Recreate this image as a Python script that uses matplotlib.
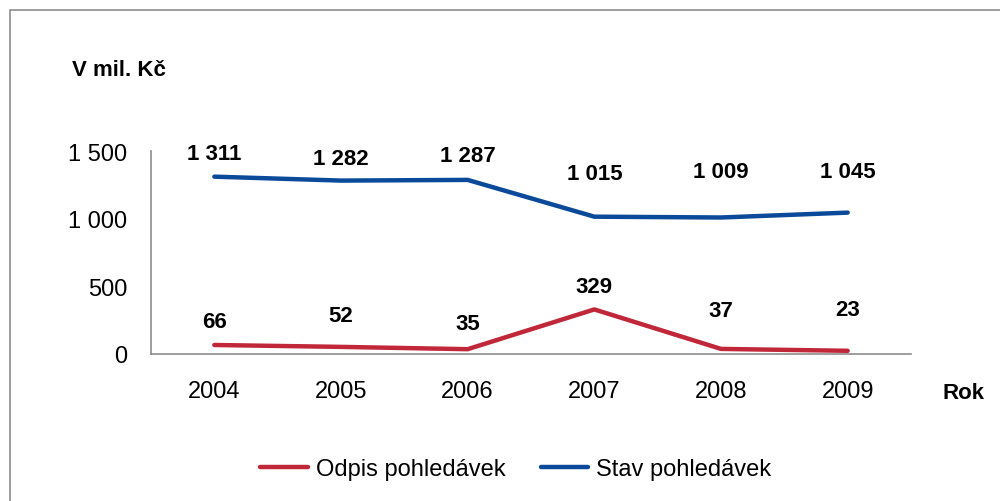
import matplotlib.pyplot as plt
from matplotlib.patches import Rectangle

plt.rcParams['font.family'] = ['Liberation Sans', 'DejaVu Sans']

years = ['2004', '2005', '2006', '2007', '2008', '2009']
odpis = [66, 52, 35, 329, 37, 23]
stav = [1311, 1282, 1287, 1015, 1009, 1045]

# label offsets in pixels (dx, dy) above each point
odpis_off = [(0, 23), (0, 31), (0, 26), (0, 23), (0, 38), (0, 41)]
stav_off = [(0, 23), (0, 22), (0, 24), (0, 43), (0, 46), (0, 41)]

red = '#C0283A'
blue = '#0B4A9A'


def fmt(v):
    return '{:,}'.format(v).replace(',', ' ')


fig = plt.figure(figsize=(10, 5.02), dpi=100)
fig.patches.append(Rectangle((0.010, -0.05), 1.1, 1.028, transform=fig.transFigure,
                             fill=False, edgecolor='#8c8c8c', linewidth=1.2))

ax = fig.add_axes([0.151, 0.293, 0.76, 0.404])
x = range(len(years))
ax.plot(x, odpis, color=red, linewidth=3.2, solid_capstyle='round', label='Odpis pohledávek')
ax.plot(x, stav, color=blue, linewidth=3.2, solid_capstyle='round', label='Stav pohledávek')

for i, v in enumerate(odpis):
    ax.annotate(fmt(v), (i, v), xytext=(odpis_off[i][0] * 0.72, odpis_off[i][1] * 0.72),
                textcoords='offset points', ha='center', va='center',
                fontsize=16, fontweight='bold')
for i, v in enumerate(stav):
    ax.annotate(fmt(v), (i, v), xytext=(stav_off[i][0] * 0.72, stav_off[i][1] * 0.72),
                textcoords='offset points', ha='center', va='center',
                fontsize=16, fontweight='bold')

ax.set_xlim(-0.5, 5.5)
ax.set_ylim(0, 1500)
ax.set_yticks([0, 500, 1000, 1500])
ax.set_yticklabels([fmt(t) for t in [0, 500, 1000, 1500]])
ax.set_xticks(list(x))
ax.set_xticklabels(years)
ax.tick_params(axis='both', length=0, labelsize=17)
ax.tick_params(axis='y', pad=17)
ax.tick_params(axis='x', pad=19)
for s in ['top', 'right']:
    ax.spines[s].set_visible(False)
for s in ['left', 'bottom']:
    ax.spines[s].set_color('#8c8c8c')
    ax.spines[s].set_linewidth(1.2)
ax.patch.set_visible(False)

fig.text(0.072, 0.86, 'V mil. Kč', fontsize=16, fontweight='bold', va='center')
fig.text(0.942, 0.217, 'Rok', fontsize=16, fontweight='bold', va='center')

fig.legend(loc='center', bbox_to_anchor=(0.516, 0.064), ncol=2, frameon=False,
           fontsize=17, handlelength=2.0, columnspacing=1.5, handletextpad=0.35)

fig.savefig('out.png', dpi=100)
